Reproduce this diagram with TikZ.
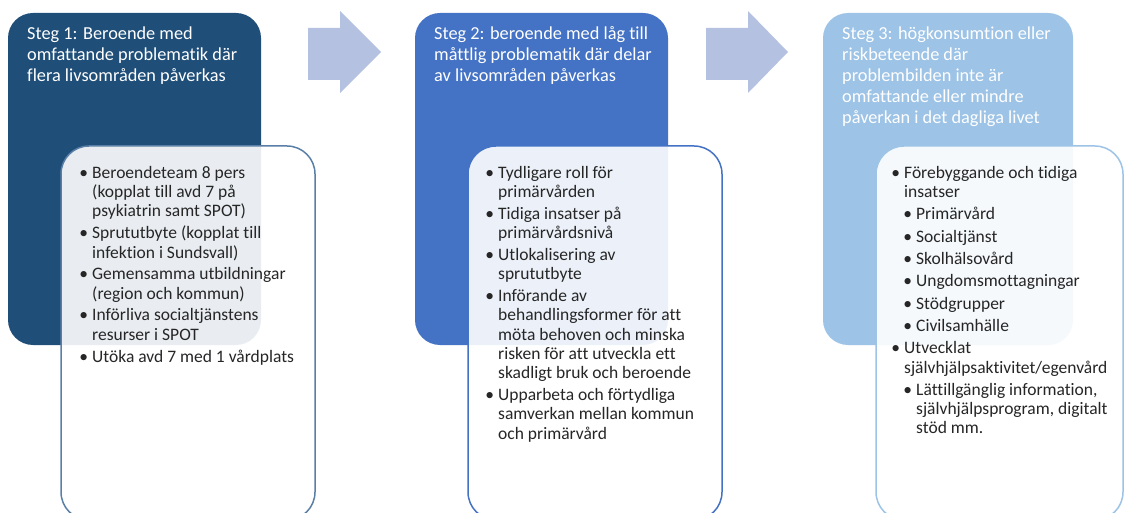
\documentclass[tikz,border=0pt]{standalone}
\usepackage{fontspec}
\setmainfont{Carlito}[Ligatures={NoCommon,NoRequired,NoContextual}]
\definecolor{p1}{HTML}{1F4E79}
\definecolor{p2}{HTML}{4472C4}
\definecolor{p3}{HTML}{9DC3E6}
\definecolor{b1}{HTML}{5A7FA6}
\definecolor{arr}{HTML}{B4C1E1}
\definecolor{txt}{HTML}{262626}
\tikzset{
  panel/.style={rounded corners=25pt},
  listbox/.style={rounded corners=28pt, fill=white, fill opacity=0.9, line width=1.5pt},
  title/.style={anchor=north west, inner sep=0pt, align=left, text=white, font=\fontsize{18.3}{21}\selectfont},
  list/.style={anchor=north west, inner sep=0pt, align=left, text=txt, font=\fontsize{17.5}{19.3}\selectfont},
  blockarrow/.style={fill=arr}
}
\newcommand{\bl}{\llap{\textbullet\hspace{4pt}}}
\newcommand{\sbl}{\hspace*{12pt}\llap{\textbullet\hspace{4pt}}}
\begin{document}
\begin{tikzpicture}[x=1pt,y=-1pt]
\useasboundingbox (0,0) rectangle (1125,513);
\begin{scope}
\clip (0,0) rectangle (1125,513);
% panels
\fill[panel, p1] (8,13) rectangle (261,345);
\fill[panel, p2] (415,13) rectangle (668,345);
\fill[panel, p3] (823,13) rectangle (1073,345);
% block arrows
\fill[blockarrow] (308,28) -- (340,28) -- (340,11) -- (381,52) -- (340,93) -- (340,80) -- (308,80) -- cycle;
\fill[blockarrow] (706,28) -- (748,28) -- (748,11) -- (788,52) -- (748,93) -- (748,80) -- (706,80) -- cycle;
% list boxes
\filldraw[listbox, draw=b1] (61,146) rectangle (315,520);
\filldraw[listbox, draw=p2] (468,146) rectangle (722,520);
\filldraw[listbox, draw=p3] (876,146) rectangle (1123,520);
\end{scope}
% titles
\node[title] (t1) at (27,26.5) {Steg 1: Beroende med\\omfattande problematik där\\flera livsområden påverkas};
\node[title] (t2) at (434,26.5) {Steg 2: beroende med låg till\\måttlig problematik där delar\\av livsområden påverkas};
\node[title] (t3) at (842,26.5) {Steg 3: högkonsumtion eller\\riskbeteende där\\problembilden inte är\\omfattande eller mindre\\påverkan i det dagliga livet};
% lists
\node[list] (l1) at (92,166) {%
\bl Beroendeteam 8 pers\\
(kopplat till avd 7 på\\
psykiatrin samt SPOT)\\[2.5pt]
\bl Sprututbyte (kopplat till\\
infektion i Sundsvall)\\[2.5pt]
\bl Gemensamma utbildningar\\
(region och kommun)\\[2.5pt]
\bl Införliva socialtjänstens\\
resurser i SPOT\\[2.5pt]
\bl Utöka avd 7 med 1 vårdplats};
\node[list] (l2) at (498,166) {%
\bl Tydligare roll för\\
primärvården\\[2.5pt]
\bl Tidiga insatser på\\
primärvårdsnivå\\[2.5pt]
\bl Utlokalisering av\\
sprututbyte\\[2.5pt]
\bl Införande av\\
behandlingsformer för att\\
möta behoven och minska\\
risken för att utveckla ett\\
skadligt bruk och beroende\\[2.5pt]
\bl Upparbeta och förtydliga\\
samverkan mellan kommun\\
och primärvård};
\node[list] (l3) at (904,166) {%
\bl Förebyggande och tidiga\\
insatser\\[3pt]
\sbl Primärvård\\[3pt]
\sbl Socialtjänst\\[3pt]
\sbl Skolhälsovård\\[3pt]
\sbl Ungdomsmottagningar\\[3pt]
\sbl Stödgrupper\\[3pt]
\sbl Civilsamhälle\\[3pt]
\bl Utvecklat\\
självhjälpsaktivitet/egenvård\\[3pt]
\sbl Lättillgänglig information,\\
\hspace*{12pt}självhjälpsprogram, digitalt\\
\hspace*{12pt}stöd mm.};
\end{tikzpicture}
\end{document}
